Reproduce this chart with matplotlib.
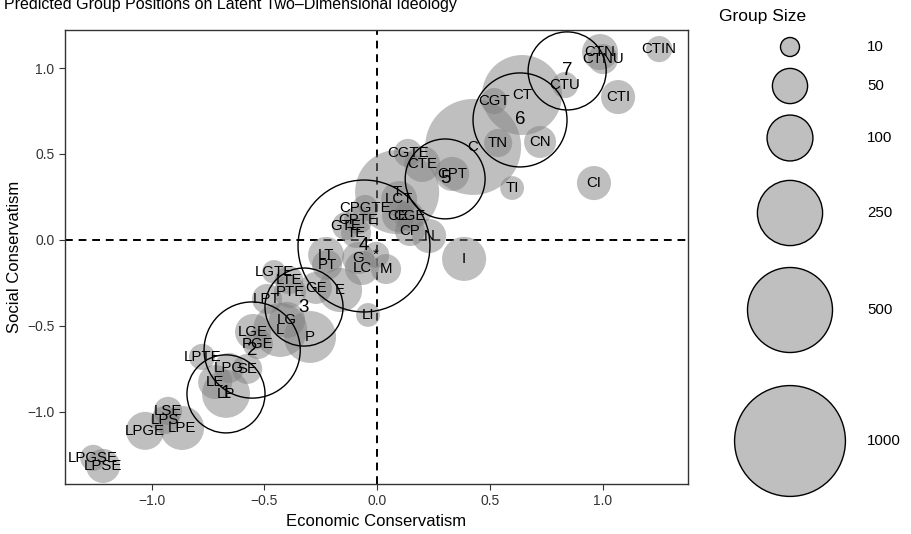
import matplotlib
matplotlib.use("Agg")
import matplotlib.pyplot as plt
import numpy as np

plt.rcParams['font.family'] = ['Liberation Sans', 'DejaVu Sans']

# group labels, positions (economic, social) and group sizes
labels = ['CTIN', 'CTN', 'CTNU', 'CTU', 'CTI', 'CT', 'CGT', 'TN', 'CN', 'C',
          'TI', 'CI', 'CPT', 'CTE', 'CGTE', 'T', 'LCT', 'CPGTE', 'CPTE', 'GTE',
          'TE', 'CE', 'CGE', 'CP', 'N', 'I', 'LT', 'PT', 'G', '*',
          'LC', 'M', 'E', 'GE', 'LI', 'LGTE', 'LTE', 'PTE', 'LPT', 'LG',
          'L', 'P', 'LGE', 'PGE', 'LPTE', 'LPG', 'SE', 'LE', 'LP', 'LSE',
          'LPS', 'LPE', 'LPGE', 'LPGSE', 'LPSE']
econ = [1.251, 0.989, 1.002, 0.834, 1.069, 0.643, 0.519, 0.537, 0.723, 0.426,
        0.599, 0.962, 0.333, 0.200, 0.137, 0.089, 0.098, -0.053, -0.084, -0.137,
        -0.093, 0.093, 0.142, 0.146, 0.231, 0.386, -0.226, -0.222, -0.084, -0.004,
        -0.067, 0.040, -0.164, -0.271, -0.040, -0.457, -0.390, -0.386, -0.488, -0.399,
        -0.430, -0.297, -0.550, -0.528, -0.776, -0.656, -0.576, -0.718, -0.670, -0.927,
        -0.940, -0.865, -1.029, -1.259, -1.215]
social = [1.110, 1.093, 1.052, 0.901, 0.831, 0.843, 0.808, 0.564, 0.570, 0.541,
          0.302, 0.331, 0.384, 0.442, 0.506, 0.279, 0.238, 0.186, 0.116, 0.081,
          0.041, 0.140, 0.140, 0.052, 0.023, -0.110, -0.087, -0.145, -0.105, -0.087,
          -0.163, -0.169, -0.291, -0.279, -0.436, -0.186, -0.233, -0.302, -0.343, -0.465,
          -0.523, -0.564, -0.535, -0.605, -0.680, -0.744, -0.750, -0.826, -0.895, -0.994,
          -1.047, -1.093, -1.110, -1.267, -1.314]
group_size = [23, 53, 33, 23, 46, 426, 23, 28, 39, 686,
              18, 46, 46, 53, 28, 485, 53, 23, 28, 28,
              33, 39, 33, 33, 46, 90, 53, 33, 39, 23,
              46, 33, 90, 39, 18, 18, 28, 39, 33, 53,
              153, 138, 53, 33, 23, 33, 33, 46, 112, 28,
              28, 90, 61, 23, 46]

# cluster centres
cluster_id = ['1', '2', '3', '4', '5', '6', '7']
cluster_econ = [-0.670, -0.554, -0.324, -0.058, 0.302, 0.634, 0.843]
cluster_social = [-0.895, -0.640, -0.390, -0.035, 0.355, 0.698, 0.983]
cluster_size = [400, 690, 400, 1575, 425, 650, 400]

legend_breaks = [10, 50, 100, 250, 500, 1000]


def marker_area(n):
    # radius in pixels grows with n**0.383, converted to points^2 for scatter
    r_px = 9.5 * (np.asarray(n, dtype=float) / 10) ** 0.383
    return (2 * r_px * 0.72) ** 2


fig = plt.figure(figsize=(9.12, 5.34), dpi=100)
ax = fig.add_axes([65 / 912, 1 - 484 / 534, 623 / 912, 454 / 534])

ax.axhline(0, color='black', linestyle=(0, (4, 3)), linewidth=1.4, zorder=1)
ax.axvline(0, color='black', linestyle=(0, (4, 3)), linewidth=1.4, zorder=1)

ax.scatter(econ, social, s=marker_area(group_size), color='#808080', alpha=0.5,
           linewidths=0, zorder=2)
ax.scatter(cluster_econ, cluster_social, s=marker_area(cluster_size),
           facecolors='none', edgecolors='black', linewidths=1.0, zorder=3)

for lab, x, y in zip(labels, econ, social):
    ax.text(x, y, lab, ha='center', va='center', fontsize=10.8, zorder=4)
for lab, x, y in zip(cluster_id, cluster_econ, cluster_social):
    ax.text(x, y, lab, ha='center', va='center', fontsize=13.5, zorder=4)

ax.set_xlim(-1.384, 1.379)
ax.set_ylim(-1.419, 1.221)
ax.set_xticks([-1.0, -0.5, 0.0, 0.5, 1.0])
ax.set_yticks([-1.0, -0.5, 0.0, 0.5, 1.0])
ax.tick_params(labelsize=10, colors='#333333', length=4, width=0.8)
for sp in ax.spines.values():
    sp.set_color('#333333')
    sp.set_linewidth(1.0)
ax.set_xlabel('Economic Conservatism', fontsize=12)
ax.set_ylabel('Social Conservatism', fontsize=12)

fig.text(4 / 912, 1 - 9 / 534, 'Predicted Group Positions on Latent Two\u2013Dimensional Ideology',
         fontsize=11.5, va='baseline', ha='left')

# size legend drawn in pixel space on the right
leg = fig.add_axes([0, 0, 1, 1], facecolor='none')
leg.set_xlim(0, 912)
leg.set_ylim(534, 0)
leg.axis('off')
leg_y = [47, 86, 138, 213, 310, 441]
leg.scatter([790] * len(legend_breaks), leg_y, s=marker_area(legend_breaks),
            color='#bfbfbf', edgecolors='black', linewidths=1.0)
for b, y in zip(legend_breaks, leg_y):
    leg.text(867, y, str(b), ha='left', va='center', fontsize=10.8)
leg.text(719, 21, 'Group Size', ha='left', va='baseline', fontsize=12.5)

fig.savefig('out.png', dpi=100)
